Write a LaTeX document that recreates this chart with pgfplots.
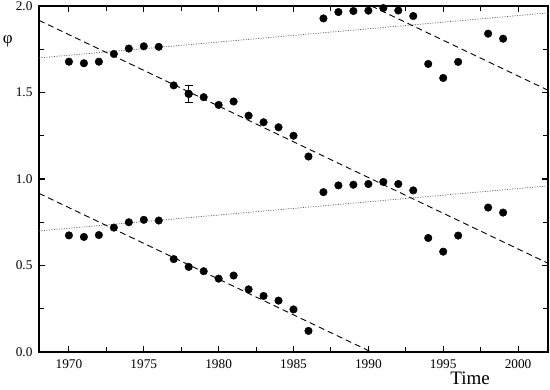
\documentclass[border=0pt]{standalone}
\usepackage{pgfplots}
\pgfplotsset{compat=1.18}
\usepackage{fontspec}
\setmainfont{Liberation Serif}

\begin{document}
\begin{tikzpicture}
\begin{axis}[
    at={(0,0)}, anchor=south west,
    scale only axis,
    width=509pt, height=346pt,
    xmin=1968, xmax=2002,
    ymin=0, ymax=2,
    xtick={1970,1975,...,2000},
    ytick={0,0.5,1,1.5,2},
    minor x tick num=1,
    minor y tick num=1,
    tick align=inside,
    major tick length=6pt,
    minor tick length=5pt,
    every tick/.style={black, line width=1.1pt},
    axis line style={line width=1.3pt},
    xticklabel style={yshift=-4pt},
    yticklabel style={xshift=-3pt, /pgf/number format/.cd, fixed, fixed zerofill, precision=1},
    x tick label style={/pgf/number format/1000 sep={}},
    /pgf/number format/assume math mode=true,
    tick label style={font=\fontsize{13.3}{16}\selectfont},
    xlabel={Time},
    xlabel style={font=\fontsize{19}{22}\selectfont, inner sep=0pt, at={(axis description cs:0.847,-0.094)}, anchor=base},
    ylabel={φ},
    ylabel style={rotate=-90, font=\fontsize{17}{20}\selectfont, at={(axis description cs:-0.0615,0.897)}, anchor=center},
    clip=true,
]
% fitted lines
\addplot[black, line width=0.9pt, dash pattern=on 6pt off 4pt] coordinates {(1968,0.917) (1990.2,0)};
\addplot[black, line width=0.9pt, dash pattern=on 6pt off 4pt] coordinates {(1968,1.917) (2002,0.513)};
\addplot[black, line width=0.9pt, dash pattern=on 6pt off 4pt] coordinates {(1990.2,2.0) (2002,1.513)};
\addplot[black!65, line width=0.7pt, dash pattern=on 1pt off 1.5pt] coordinates {(1968,0.70) (2002,0.96)};
\addplot[black!65, line width=0.7pt, dash pattern=on 1pt off 1.5pt] coordinates {(1968,1.70) (2002,1.96)};
% phase, upper branch
\addplot[only marks, mark=*, mark size=3.8pt, black] coordinates {
 (1970,1.678) (1971,1.669) (1972,1.678) (1973,1.723) (1974,1.754)
 (1975,1.767) (1976,1.764) (1977,1.541) (1978,1.492) (1979,1.473)
 (1980,1.428) (1981,1.448) (1982,1.366) (1983,1.328) (1984,1.299)
 (1985,1.250) (1986,1.130) (1987,1.928) (1988,1.965) (1989,1.971)
 (1990,1.973) (1991,1.988) (1992,1.974) (1993,1.942) (1994,1.665)
 (1995,1.584) (1996,1.677) (1998,1.840) (1999,1.811)
};
\addplot[only marks, mark=*, mark size=3.8pt, black,
    error bars/.cd, y dir=both, y explicit,
    error bar style={line width=0.8pt},
    error mark options={rotate=90, mark size=4pt, line width=0.8pt}]
    coordinates {(1978,1.492) +- (0,0.049)};
% phase, lower branch
\addplot[only marks, mark=*, mark size=3.8pt, black] coordinates {
 (1970,0.674) (1971,0.665) (1972,0.676) (1973,0.719) (1974,0.750)
 (1975,0.764) (1976,0.760) (1977,0.537) (1978,0.492) (1979,0.467)
 (1980,0.424) (1981,0.442) (1982,0.362) (1983,0.324) (1984,0.297)
 (1985,0.246) (1986,0.122) (1987,0.924) (1988,0.963) (1989,0.967)
 (1990,0.971) (1991,0.983) (1992,0.971) (1993,0.934) (1994,0.659)
 (1995,0.580) (1996,0.673) (1998,0.835) (1999,0.806)
};
\end{axis}
\pgfresetboundingbox
\path[use as bounding box] (-39pt,-38pt) rectangle (511pt,352pt);
\end{tikzpicture}
\end{document}
